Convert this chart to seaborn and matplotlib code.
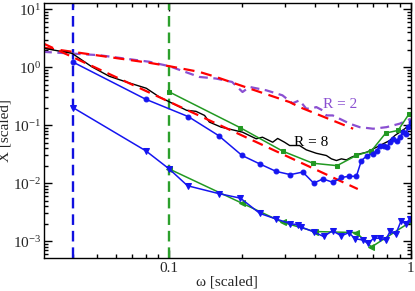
import numpy as np
import seaborn as sns
import matplotlib.pyplot as plt
from matplotlib.ticker import LogLocator, NullFormatter, FixedLocator, FixedFormatter

sns.set_style("ticks")
plt.rcParams["font.family"] = ["Liberation Serif", "DejaVu Serif"]
plt.rcParams["mathtext.fontset"] = "stix"

# blue circles (upper blue series)
w_bc = [0.04, 0.08, 0.12, 0.16, 0.20, 0.237, 0.277, 0.317, 0.357, 0.396, 0.433, 0.476,
        0.516, 0.554, 0.595, 0.624, 0.659, 0.694, 0.721, 0.743, 0.774, 0.797, 0.818,
        0.845, 0.873, 0.90, 0.929, 0.953, 0.975, 1.0]
x_bc = [1.22, 0.279, 0.14, 0.066, 0.030, 0.0214, 0.0159, 0.014, 0.0155, 0.010, 0.0118,
        0.0103, 0.0125, 0.0131, 0.0131, 0.0244, 0.0299, 0.0319, 0.0365, 0.0428, 0.0445,
        0.0416, 0.0507, 0.058, 0.054, 0.062, 0.0757, 0.071, 0.092, 0.113]

# blue triangles (lower blue series)
w_bt = [0.04, 0.08, 0.1, 0.119, 0.16, 0.197, 0.237, 0.277, 0.317, 0.34, 0.351, 0.396,
        0.435, 0.474, 0.516, 0.554, 0.586, 0.634, 0.665, 0.702, 0.743, 0.787, 0.822,
        0.865, 0.91, 0.953, 0.99]
x_bt = [0.20, 0.036, 0.0175, 0.009, 0.0066, 0.0055, 0.0030, 0.0024, 0.0020, 0.0019,
        0.00175, 0.00144, 0.0012, 0.0015, 0.00123, 0.0014, 0.0011, 0.00104, 0.00091,
        0.00112, 0.00112, 0.00104, 0.0015, 0.0013, 0.0022, 0.0020, 0.0024]

# green squares (upper green series)
w_gs = [0.1, 0.197, 0.295, 0.393, 0.495, 0.595, 0.687, 0.787, 0.885, 0.98]
x_gs = [0.374, 0.090, 0.0355, 0.022, 0.020, 0.030, 0.036, 0.073, 0.081, 0.153]

# green triangles (lower green series)
w_gt = [0.1, 0.2, 0.295, 0.40, 0.595, 0.687, 0.99]
x_gt = [0.0175, 0.0045, 0.0021, 0.00146, 0.0014, 0.00079, 0.0021]

# black curve, R = 8
w_k = [0.030, 0.0396, 0.0479, 0.0564, 0.0663, 0.0803, 0.091, 0.103, 0.118, 0.129,
       0.140, 0.1465, 0.164, 0.201, 0.229, 0.243, 0.268, 0.281, 0.300, 0.315, 0.346,
       0.369, 0.406, 0.447, 0.469, 0.492, 0.516, 0.541, 0.567, 0.614, 0.655, 0.721,
       0.768, 0.818, 0.859, 0.900, 0.944, 1.0]
x_k = [2.13, 1.73, 1.01, 0.698, 0.556, 0.433, 0.306, 0.238, 0.180, 0.173, 0.147, 0.113,
       0.0923, 0.0756, 0.0581, 0.0619, 0.0507, 0.0589, 0.0507, 0.0445, 0.0445, 0.0375,
       0.0327, 0.0299, 0.0262, 0.0245, 0.0262, 0.0251, 0.0279, 0.0319, 0.034, 0.0416,
       0.0476, 0.0543, 0.0663, 0.0756, 0.0867, 0.106]

# purple dashed curve, R = 2
w_p = [0.030, 0.0512, 0.0826, 0.100, 0.133, 0.156, 0.182, 0.201, 0.215, 0.252, 0.294,
       0.324, 0.346, 0.369, 0.392, 0.406, 0.431, 0.447, 0.475, 0.507, 0.558, 0.614,
       0.698, 0.793, 0.900, 1.0]
x_p = [1.84, 1.61, 1.24, 1.04, 0.679, 0.637, 0.556, 0.373, 0.456, 0.399, 0.327, 0.238,
       0.268, 0.192, 0.195, 0.205, 0.180, 0.147, 0.147, 0.129, 0.106, 0.0923, 0.0867,
       0.0923, 0.106, 0.129]

# red dashed fits
w_r1 = [0.030, 0.603]
x_r1 = [2.58, 0.0079]
w_r2 = [0.030, 0.0398, 0.0826, 0.100, 0.133, 0.156, 0.215, 0.315, 0.346, 0.577]
x_r2 = [2.18, 1.84, 1.19, 1.04, 0.83, 0.679, 0.428, 0.25, 0.205, 0.0867]

vlines = [0.04, 0.1]
vcolors = ["#1010e0", "#2ca02c"]

blue = "#1515f0"
green = "#229922"
purple = "#8a4fd1"

fig = plt.figure(figsize=(4.15, 2.91), dpi=100)
ax = fig.add_axes([0.106, 0.1134, 0.884, 0.8763])
ax.set_xscale("log")
ax.set_yscale("log")

for v, c in zip(vlines, vcolors):
    ax.axvline(v, color=c, lw=1.7, ls=(0, (4.5, 2.5)), zorder=1)

common = dict(ax=ax, sort=False, estimator=None, legend=False)
sns.lineplot(x=w_p, y=x_p, color=purple, lw=1.6, linestyle=(0, (4, 2.5)), **common)
sns.lineplot(x=w_r2, y=x_r2, color="red", lw=1.6, linestyle=(0, (5, 3)), **common)
sns.lineplot(x=w_k, y=x_k, color="black", lw=1.0, **common)
sns.lineplot(x=w_r1, y=x_r1, color="red", lw=1.6, linestyle=(0, (5, 3)), **common)
sns.lineplot(x=w_gs, y=x_gs, color=green, lw=1.1, marker="s", ms=3.5, mec=green, **common)
sns.lineplot(x=w_gt, y=x_gt, color=green, lw=1.1, marker="<", ms=4, mec=green, **common)
sns.lineplot(x=w_bc, y=x_bc, color=blue, lw=1.1, marker="o", ms=3.5, mec=blue, **common)
sns.lineplot(x=w_bt, y=x_bt, color=blue, lw=1.1, marker="v", ms=4, mec=blue, **common)

ax.set_xlim(0.0303, 1.0)
ax.set_ylim(5.1e-4, 12.8)

ax.xaxis.set_major_locator(FixedLocator([0.1, 1.0]))
ax.xaxis.set_major_formatter(FixedFormatter(["0.1", "1"]))
ax.xaxis.set_minor_locator(LogLocator(base=10, subs=np.arange(2, 10)))
ax.xaxis.set_minor_formatter(NullFormatter())
ax.yaxis.set_major_locator(LogLocator(base=10, numticks=10))
ax.yaxis.set_minor_locator(LogLocator(base=10, subs=np.arange(2, 10), numticks=20))
ax.yaxis.set_minor_formatter(NullFormatter())

ax.tick_params(which="both", direction="in", top=True, right=True, labelsize=11,
               width=1.0, color="black")
ax.tick_params(which="major", length=6)
ax.tick_params(which="minor", length=3)
ax.tick_params(axis="x", pad=3)
ax.tick_params(axis="y", pad=2)
for s in ax.spines.values():
    s.set_linewidth(1.0)
    s.set_color("black")

ax.set_xlabel("ω [scaled]", fontsize=11, labelpad=0)
ax.set_ylabel("X [scaled]", fontsize=11, labelpad=1)

# labels placed in display pixels (origin bottom-left)
ax.text(340, 291 - 104, "R = 2", transform=None, color=purple, fontsize=11,
        ha="center", va="center")
ax.text(311, 291 - 142, "R = 8", transform=None, color="black", fontsize=11,
        ha="center", va="center")

fig.savefig("out.png", dpi=100)
